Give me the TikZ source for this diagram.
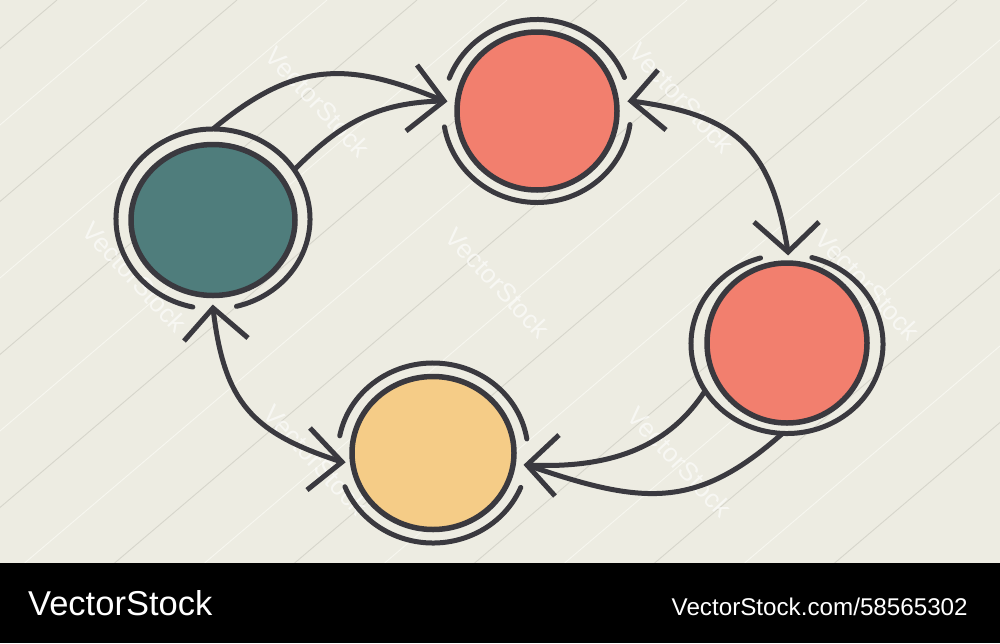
\documentclass[tikz,border=0pt]{standalone}
\usepackage{fontspec}
\setmainfont{Liberation Sans}
\usetikzlibrary{shapes.geometric}
\definecolor{bgc}{HTML}{EDECE2}
\definecolor{ink}{HTML}{3A393F}
\definecolor{tealc}{HTML}{4F7D7C}
\definecolor{redc}{HTML}{F27F6E}
\definecolor{yelc}{HTML}{F5CC87}
\definecolor{gridd}{HTML}{D6D5CB}
\definecolor{gridl}{HTML}{F7F7F0}
\tikzset{
  disc/.style={ellipse, draw=ink, line width=5.5pt, inner sep=0pt, outer sep=0pt,
    minimum width=163pt, minimum height=154pt},
  ring/.style={draw=ink, line width=5pt, line cap=round},
  conn/.style={draw=ink, line width=5pt, line cap=butt},
  barb/.style={draw=ink, line width=5pt, line join=miter, line cap=butt},
  wmark/.style={text=white, opacity=0.6, font=\fontsize{26}{26}\selectfont, rotate=-47, inner sep=0pt},
  bandtext/.style={text=white, inner sep=0pt, anchor=base west},
}
\begin{document}
\begin{tikzpicture}[x=1pt,y=-1pt]
\useasboundingbox (0,0) rectangle (1000,643);
\fill[bgc] (0,0) rectangle (1000,643);
% faint diagonal background lines
\foreach \xo in {57,237,417,597,777,957,1137,1317,1497}{
  \draw[gridd, line width=0.9pt] (\xo-700,595) -- (\xo,0);
}
\foreach \xo in {147,327,507,687,867,1047,1227,1407}{
  \draw[gridl, line width=0.9pt] (\xo-700,595) -- (\xo,0);
}
% watermarks
\node[wmark] (w1) at (318,102) {VectorStock};
\node[wmark] (w2) at (682,98) {VectorStock};
\node[wmark] (w3) at (498,283) {VectorStock};
\node[wmark] (w4) at (135,277) {VectorStock};
\node[wmark] (w5) at (868,285) {VectorStock};
\node[wmark] (w6) at (316,460) {VectorStock};
\node[wmark] (w7) at (680,462) {VectorStock};

% discs
\node[disc, fill=tealc, minimum width=164pt, minimum height=151pt] (teal) at (213,220) {};
\node[disc, fill=redc, minimum width=160pt, minimum height=158pt] (redtop) at (537,111) {};
\node[disc, fill=redc, minimum width=160pt, minimum height=160pt] (redright) at (787,343) {};
\node[disc, fill=yelc, minimum width=162pt, minimum height=153pt] (yellow) at (433,453) {};

% outer rings (broken where arrows arrive)
\draw[ring] (213,219) ++(102:97 and 90) arc[start angle=102, end angle=436, x radius=97, y radius=90];
\draw[ring] (537,111) ++(8.5:94 and 91.5) arc[start angle=8.5, end angle=170, x radius=94, y radius=91.5];
\draw[ring] (537,111) ++(201:94 and 91.5) arc[start angle=201, end angle=338.5, x radius=94, y radius=91.5];
\draw[ring] (787,344) ++(285:96 and 89.5) arc[start angle=285, end angle=614, x radius=96, y radius=89.5];
\draw[ring] (433,453) ++(22.5:95 and 90) arc[start angle=22.5, end angle=158, x radius=95, y radius=90];
\draw[ring] (433,453) ++(191:95 and 90) arc[start angle=191, end angle=351, x radius=95, y radius=90];

% connector end points
\coordinate (sA1) at (213,129);
\coordinate (sA2) at (294.2,169.8);
\coordinate (tA) at (444,101);
\coordinate (tB1) at (631,101);
\coordinate (tB2) at (788,252);
\coordinate (tC1) at (213,308);
\coordinate (tC2) at (342,462);
\coordinate (sD1) at (705,391);
\coordinate (sD2) at (783,433);
\coordinate (tD) at (527,465);

% teal -> red top (crescent)
\draw[conn] (sA1) .. controls (297,59) and (350,62) .. (tA);
\draw[conn] (sA2) .. controls (339,125) and (375,102) .. (tA);
\draw[barb] (tA) ++(-27,-36) -- (tA) -- ++(-38,30);

% red top <-> red right
\draw[conn] (tB1) .. controls (741,115) and (772,152) .. (tB2);
\draw[barb] (tB1) ++(27,-31) -- (tB1) -- ++(35,29);
\draw[barb] (tB2) ++(-34,-30) -- (tB2) -- ++(31,-30);

% teal <-> yellow
\draw[conn] (tC1) .. controls (224,403) and (252,433) .. (tC2);
\draw[barb] (tC1) ++(-29,33) -- (tC1) -- ++(35,30);
\draw[barb] (tC2) ++(-32,-34) -- (tC2) -- ++(-35,28);

% red right -> yellow (crescent)
\draw[conn] (sD1) .. controls (671,443) and (617,469.5) .. (tD);
\draw[conn] (sD2) .. controls (697,509) and (645,506) .. (tD);
\draw[barb] (tD) ++(32,-30) -- (tD) -- ++(28,31);

% bottom band
\fill[black] (0,563) rectangle (1000,643);
\node[bandtext, font=\fontsize{34.5}{34.5}\selectfont] (brand) at (28,615.7) {VectorStock};
\node[bandtext, font=\fontsize{24.2}{24.2}\selectfont] (url) at (671.5,615) {VectorStock.com/58565302};
\end{tikzpicture}
\end{document}
